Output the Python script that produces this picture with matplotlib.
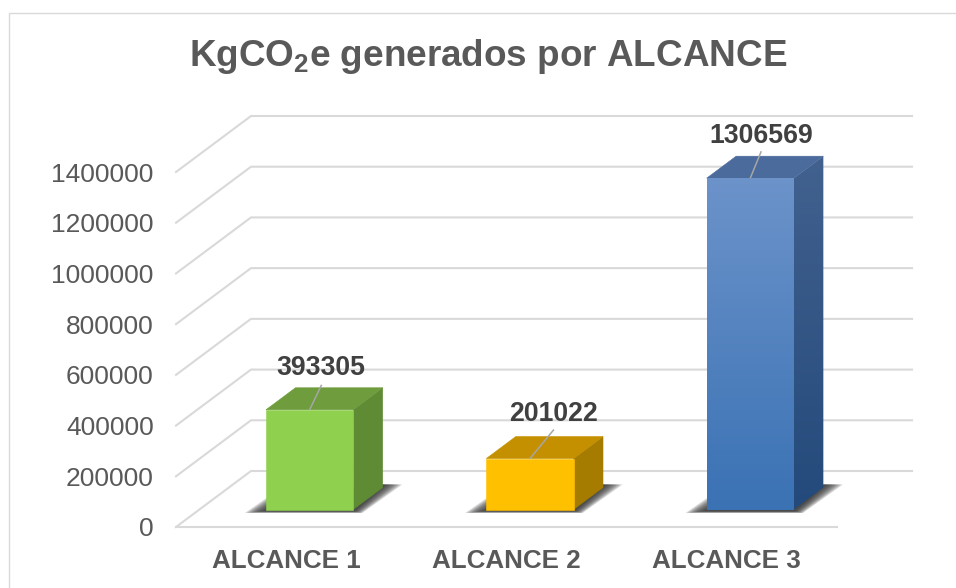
import numpy as np
import matplotlib
matplotlib.use("Agg")
import matplotlib.pyplot as plt
from matplotlib.patches import Polygon
from matplotlib.colors import LinearSegmentedColormap
from matplotlib.lines import Line2D

categories = ["ALCANCE 1", "ALCANCE 2", "ALCANCE 3"]
values = [393305, 201022, 1306569]
y_ticks = [0, 200000, 400000, 600000, 800000, 1000000, 1200000, 1400000]
title = r"KgCO$_{\mathbf{2}}$e generados por ALCANCE"

front_colors = [("#8FD14F", "#8FD14F"), ("#FFC000", "#FFC000"), ("#6C93CA", "#3A72B4")]
side_colors = [("#5F8B34", "#5F8B34"), ("#A67C00", "#A67C00"), ("#42618F", "#234A7B")]
top_colors = ["#6F9C3D", "#C49000", "#4A6B9B"]
label_offsets = [(11, 42), (24, 45), (11, 42)]
leader_ends = [(12, 25), (24, 29), (11, 27)]

W, H = 956, 588
plt.rcParams["font.family"] = ["Liberation Sans", "DejaVu Sans"]
plt.rcParams["mathtext.fontset"] = "custom"
plt.rcParams["mathtext.bf"] = "Liberation Sans:bold"
plt.rcParams["mathtext.rm"] = "Liberation Sans"
fig = plt.figure(figsize=(W / 100, H / 100), dpi=100, facecolor="white")
L, R, B, T = 176, 837, 527, 172
ax = fig.add_axes([L / W, 1 - B / H, (R - L) / W, (B - T) / H])
ax.set_xlim(-0.5, 2.5)
ax.set_ylim(0, 1400000)
ax.patch.set_visible(False)
for s in ax.spines.values():
    s.set_visible(False)

px = (R - L) / 3            # pixels per category
py = (B - T) / 1400000      # pixels per value unit
DX, DY = 75, 56             # depth of the floor in pixels
HALF = 43.6 / px
D0, D1 = 17.5 / 56, 39.5 / 56


def proj(x, v, d):
    return x + d * DX / px, v + d * DY / py


def rel(x, v, ox, oy):
    return x + ox / px, v + oy / py


# walls and gridlines
GRID = "#D9D9D9"
for v in y_ticks:
    xs, ys = zip(proj(-0.5, v, 0), proj(-0.5, v, 1), proj(2.5, v, 1))
    ax.plot(xs, ys, color=GRID, lw=1.5, clip_on=False, zorder=1)
ax.plot([-0.5, 2.5], [0, 0], color=GRID, lw=1.5, clip_on=False, zorder=1)


def gradient(poly_pts, c_top, c_bot, z):
    pts = np.array(poly_pts)
    if c_top == c_bot:
        ax.add_patch(Polygon(pts, closed=True, fc=c_top, ec=c_top, lw=0.4, zorder=z, clip_on=False))
        return
    cm = LinearSegmentedColormap.from_list("g", [c_top, c_bot])
    im = ax.imshow(np.linspace(0, 1, 256)[:, None], cmap=cm, aspect="auto", zorder=z,
                   extent=[pts[:, 0].min(), pts[:, 0].max(), pts[:, 1].min(), pts[:, 1].max()],
                   origin="upper")
    clip = Polygon(pts, closed=True, transform=ax.transData, fc="none", ec="none")
    ax.add_patch(clip)
    im.set_clip_box(fig.bbox)
    im.set_clip_path(clip)


for i, v in enumerate(values):
    x0, x1 = i - HALF, i + HALF
    # soft shadow on the floor
    base_l = proj(x0, 0, D0)
    base_r = proj(x1, 0, D0)
    n = 9
    for k in range(n):
        g = 1 - k / n
        shape = [rel(*base_l, -20 * g - 1, -3.5 * (0.4 + 0.6 * g)),
                 rel(*base_l, 4, 14 * g),
                 rel(*base_r, 30, 25),
                 rel(*base_r, 30 + 19 * g, 25),
                 rel(*base_r, 9 * g, -3.5 * (0.4 + 0.6 * g))]
        ax.add_patch(Polygon(shape, closed=True, fc="#303030", ec="none", alpha=0.2,
                             zorder=2, clip_on=False))
    # faces
    front = [proj(x0, 0, D0), proj(x1, 0, D0), proj(x1, v, D0), proj(x0, v, D0)]
    side = [proj(x1, 0, D0), proj(x1, 0, D1), proj(x1, v, D1), proj(x1, v, D0)]
    top = [proj(x0, v, D0), proj(x1, v, D0), proj(x1, v, D1), proj(x0, v, D1)]
    gradient(side, *side_colors[i], 3)
    ax.add_patch(Polygon(top, closed=True, fc=top_colors[i], ec=top_colors[i], lw=0.4,
                         zorder=3, clip_on=False))
    gradient(front, *front_colors[i], 4)

    # data label and leader line
    anchor = proj(i, v, D0)
    lx, ly = rel(*anchor, *leader_ends[i])
    ax.plot([anchor[0], lx], [anchor[1], ly], color="#A6A6A6", lw=1.1, zorder=5,
            clip_on=False, solid_capstyle="butt")
    tx, ty = rel(*anchor, *label_offsets[i])
    ax.text(tx, ty, str(v), ha="center", va="center", fontsize=19.2, fontweight="bold",
            color="#404040", zorder=6, clip_on=False)

ax.set_xlim(-0.5, 2.5)
ax.set_ylim(0, 1400000)
ax.set_yticks(y_ticks)
ax.set_yticklabels([str(t) for t in y_ticks], fontsize=19, color="#595959")
ax.set_xticks(range(3))
ax.set_xticklabels(categories, fontsize=18.7, fontweight="bold", color="#595959")
ax.tick_params(axis="y", length=0, pad=16)
ax.tick_params(axis="x", length=0, pad=15.7)

fig.text(488 / W, 1 - 57 / H, title, ha="center", va="center", fontsize=26.6,
         fontweight="bold", color="#595959")

# chart frame (left and top edges are in view)
fig.add_artist(Line2D([9 / W, 9 / W, 1], [0, 1 - 13 / H, 1 - 13 / H], color="#D9D9D9", lw=1.0))

fig.savefig("out.png", dpi=100)
